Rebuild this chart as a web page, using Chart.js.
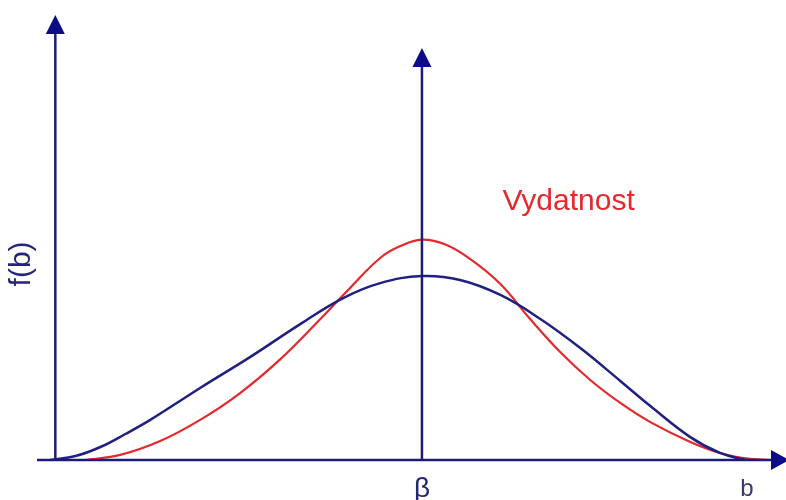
<!DOCTYPE html>
<html>
<head>
<meta charset="utf-8">
<script src="https://cdn.jsdelivr.net/npm/chart.js@4/dist/chart.umd.min.js"></script>
<style>
  html, body { margin: 0; padding: 0; background: #fff; }
  #wrap { width: 786px; height: 500px; }
</style>
</head>
<body>
<div id="wrap"><canvas id="dist"></canvas></div>
<script>
// b positions (beta sits at 100) and density heights for both curves
const blueB = [-1.4, 5.5, 12.3, 19.1, 25.9, 39.5, 53.2, 66.8, 78.5, 88.6, 100, 110.4, 121.4, 132.3, 143.2, 154.1, 162.3, 173.2, 181.3, 188.2];
const blueF = [0, 1.8, 5.9, 11.8, 18.2, 32.7, 46.8, 61.7, 73.5, 80.3, 83.5, 81.7, 74.9, 64.0, 50.8, 35.9, 24.5, 10.4, 3.2, 0];

const redB = [8.2, 17.7, 28.6, 39.5, 50.4, 61.4, 72.3, 80.4, 88.6, 94.1, 100, 106.4, 113.2, 121.4, 129.5, 137.7, 145.9, 154.1, 162.3, 173.2, 181.3, 189.5, 196.3];
const redF = [0, 2.3, 8.6, 18.2, 30.4, 45.8, 64.0, 78.1, 91.7, 97.1, 100, 97.8, 91.2, 79.9, 64.0, 49.0, 36.3, 25.9, 17.2, 8.2, 3.2, 0.5, 0];

const betaValue = 100;
const betaArrowTop = 187;
const axisLabels = { y: 'f(b)', x: 'b', beta: 'β', curve: 'Vydatnost' };
const curveLabelAt = { b: 140, f: 113.6 };

const navy = '#1c1c78';
const arrowBlue = '#0c0c88';
const red = '#e4282c';

function toPoints(xs, ys) {
  return xs.map((x, i) => ({ x: x, y: ys[i] }));
}

function arrowUp(ctx, x, tipY) {
  ctx.beginPath();
  ctx.moveTo(x, tipY);
  ctx.lineTo(x - 9.5, tipY + 19);
  ctx.lineTo(x + 9.5, tipY + 19);
  ctx.closePath();
  ctx.fill();
}

const axesPlugin = {
  id: 'axes',
  afterDatasetsDraw(chart) {
    const { ctx, chartArea, scales } = chart;
    const xs = scales.x;
    const ys = scales.y;
    const x0 = xs.getPixelForValue(0);
    const xb = xs.getPixelForValue(betaValue);
    const y0 = ys.getPixelForValue(0);

    ctx.save();
    ctx.strokeStyle = navy;
    ctx.fillStyle = arrowBlue;
    ctx.lineWidth = 2.5;

    // horizontal axis with arrow running off the right edge
    ctx.beginPath();
    ctx.moveTo(chartArea.left, y0);
    ctx.lineTo(chartArea.right - 12, y0);
    ctx.stroke();
    ctx.beginPath();
    ctx.moveTo(chartArea.right + 3, y0);
    ctx.lineTo(chartArea.right - 15, y0 - 10);
    ctx.lineTo(chartArea.right - 15, y0 + 10);
    ctx.closePath();
    ctx.fill();

    // f(b) axis
    ctx.beginPath();
    ctx.moveTo(x0, y0);
    ctx.lineTo(x0, chartArea.top + 16);
    ctx.stroke();
    arrowUp(ctx, x0, chartArea.top);

    // beta line
    const tipB = ys.getPixelForValue(betaArrowTop);
    ctx.beginPath();
    ctx.moveTo(xb, y0);
    ctx.lineTo(xb, tipB + 16);
    ctx.stroke();
    arrowUp(ctx, xb, tipB);

    // labels
    ctx.textAlign = 'center';
    ctx.textBaseline = 'alphabetic';
    ctx.fillStyle = '#24247a';
    ctx.font = '28px "Liberation Sans", Arial, sans-serif';
    ctx.fillText(axisLabels.beta, xb, y0 + 37);

    ctx.fillStyle = '#3a3a6e';
    ctx.font = '24px "Liberation Sans", Arial, sans-serif';
    ctx.fillText(axisLabels.x, chartArea.right - 39, y0 + 36);

    ctx.fillStyle = red;
    ctx.font = '30px "Liberation Sans", Arial, sans-serif';
    ctx.fillText(axisLabels.curve, xs.getPixelForValue(curveLabelAt.b), ys.getPixelForValue(curveLabelAt.f));

    ctx.save();
    ctx.translate(chartArea.left - 7, ys.getPixelForValue(89));
    ctx.rotate(-Math.PI / 2);
    ctx.fillStyle = '#24247a';
    ctx.font = '30px "Liberation Sans", Arial, sans-serif';
    ctx.fillText(axisLabels.y, 0, 0);
    ctx.restore();

    ctx.restore();
  }
};

new Chart(document.getElementById('dist'), {
  type: 'scatter',
  data: {
    datasets: [
      {
        data: toPoints(blueB, blueF),
        showLine: true,
        borderColor: '#202080',
        borderWidth: 2.5,
        pointRadius: 0,
        tension: 0.4
      },
      {
        data: toPoints(redB, redF),
        showLine: true,
        borderColor: red,
        borderWidth: 2.2,
        pointRadius: 0,
        tension: 0.4
      }
    ]
  },
  options: {
    responsive: true,
    maintainAspectRatio: false,
    animation: false,
    layout: { padding: { left: 37, right: 0, top: 15, bottom: 40 } },
    plugins: { legend: { display: false }, tooltip: { enabled: false } },
    scales: {
      x: { type: 'linear', min: -5, max: 199.3, display: false },
      y: { type: 'linear', min: 0, max: 202, display: false }
    }
  },
  plugins: [axesPlugin]
});
</script>
</body>
</html>
